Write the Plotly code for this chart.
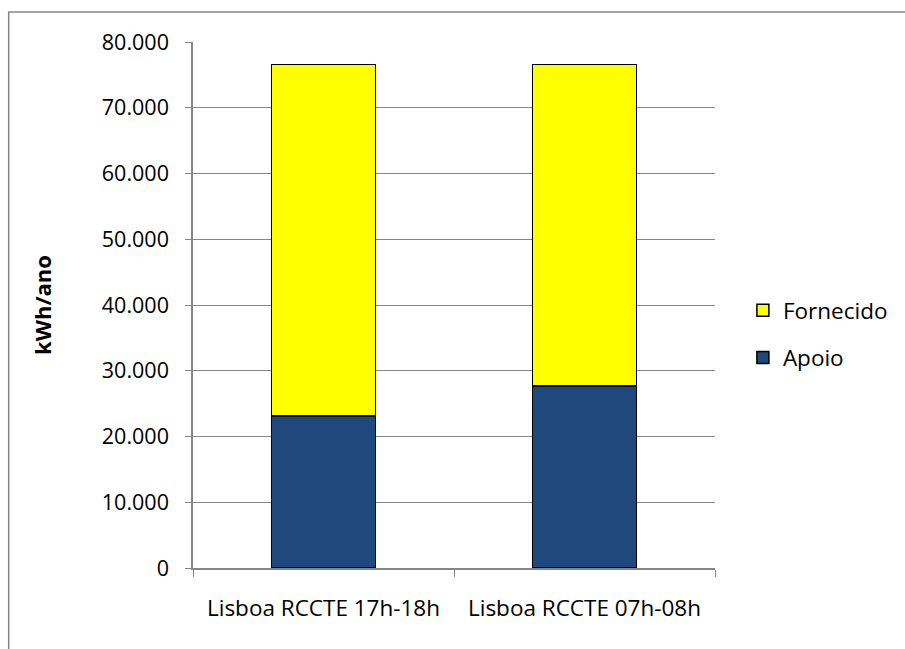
import plotly.graph_objects as go

categories = ["Lisboa RCCTE 17h-18h", "Lisboa RCCTE 07h-08h"]
apoio = [23100, 27700]
fornecido = [53500, 48900]
y_ticks = [0, 10000, 20000, 30000, 40000, 50000, 60000, 70000, 80000]

W, H = 905, 649
L, R, T, B = 193, 717, 42, 568

fig = go.Figure()
fig.add_trace(go.Bar(name="Apoio", x=categories, y=apoio, legendrank=2, legendgroup="a",
                     marker=dict(color="#1F497D", line=dict(color="#000000", width=1.5))))
fig.add_trace(go.Bar(name="Fornecido", x=categories, y=fornecido, legendrank=1, legendgroup="f",
                     marker=dict(color="#FFFF00", line=dict(color="#000000", width=1.5))))

pw, ph = R - L, B - T
def px(x):
    return (x - L) / pw
def py(y):
    return (B - y) / ph

fig.update_layout(
    width=W, height=H,
    margin=dict(l=L, r=W - R, t=T, b=H - B),
    barmode="stack", bargap=0.6,
    separators=",.",
    paper_bgcolor="white", plot_bgcolor="white",
    font=dict(family="Open Sans", size=21, color="#000000"),
    legend=dict(x=px(745), y=py(289), xanchor="left", yanchor="top",
                traceorder="grouped", tracegroupgap=15,
                font=dict(size=22.5), itemwidth=30),
    xaxis=dict(showline=True, linecolor="#868686", linewidth=1.5,
               ticks="outside", tickson="boundaries", ticklen=7, tickcolor="#868686",
               tickfont=dict(size=22.5), ticklabelstandoff=19),
    yaxis=dict(range=[0, 80000], tickvals=y_ticks, tickformat=",.0f",
               showline=True, linecolor="#868686", linewidth=1.5,
               ticks="outside", ticklen=6, tickcolor="#868686",
               showgrid=True, gridcolor="#868686", gridwidth=1,
               zeroline=False, ticklabelstandoff=12,
               title=dict(text="<b>kWh/ano</b>", font=dict(size=22), standoff=44),
               tickfont=dict(size=21.5)),
    shapes=[dict(type="rect", xref="paper", yref="paper",
                 x0=px(8), x1=px(930), y0=py(670), y1=py(12),
                 line=dict(color="#868686", width=1.5), layer="below")],
)

fig.write_html("out.html")
